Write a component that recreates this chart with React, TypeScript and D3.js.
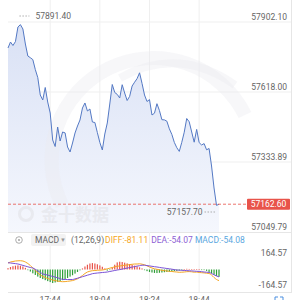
import React from "react";
import * as d3 from "d3";

// one point per minute, 17:27 .. 18:52
const startTime = new Date(2024, 0, 1, 17, 27);
const endTime = new Date(2024, 0, 1, 18, 53);
const times = d3.timeMinute.range(startTime, endTime);

const prices = [
  57796.6, 57820.9, 57806.7, 57822.6, 57881.8, 57891.4, 57873.7, 57812.8, 57764.1, 57757.2,
  57749.5, 57709.3, 57676.4, 57605.8, 57585.5, 57636.3, 57577.4, 57532.8, 57423.2, 57396.8,
  57475.9, 57419.1, 57455.7, 57452.0, 57394.8, 57374.5, 57411.0, 57451.6, 57480.0, 57504.4,
  57553.1, 57573.4, 57540.9, 57549.0, 57496.2, 57494.2, 57453.2, 57413.0, 57382.6, 57447.5,
  57492.2, 57569.3, 57648.4, 57616.0, 57608.3, 57593.6, 57647.6, 57613.9, 57583.5, 57600.1,
  57642.3, 57657.8, 57672.4, 57695.9, 57652.5, 57605.8, 57579.4, 57587.2, 57524.7, 57532.0,
  57570.5, 57542.9, 57505.6, 57504.8, 57499.5, 57468.6, 57445.9, 57413.5, 57391.9, 57376.9,
  57413.5, 57454.8, 57510.4, 57497.1, 57455.7, 57414.3, 57466.2, 57412.6, 57402.9, 57408.6,
  57383.4, 57388.7, 57317.7, 57228.4, 57157.7, 57162.6,
];

const diff = [
  47.5, 54.8, 58.5, 62.1, 63.6, 64.3, 62.1, 54.8, 43.9, 29.2,
  11.0, -7.3, -25.6, -40.2, -51.2, -58.5, -65.8, -71.6, -76.8, -81.1,
  -84.8, -87.7, -89.2, -88.5, -86.3, -84.1, -81.1, -75.3, -68.0, -57.0,
  -43.9, -29.2, -18.3, -12.4, -8.8, -7.3, -5.8, -4.4, -3.7, 0.0,
  5.1, 9.5, 14.6, 19.7, 24.1, 25.6, 28.5, 31.4, 32.9, 35.8,
  38.0, 40.2, 40.2, 41.7, 38.7, 34.4, 27.0, 18.3, 11.0, 5.1,
  1.5, -2.2, -5.8, -8.8, -11.0, -13.2, -14.6, -16.8, -18.3, -20.5,
  -19.7, -18.3, -16.1, -15.4, -16.8, -19.7, -19.0, -21.9, -23.4, -24.9,
  -27.0, -29.2, -40.2, -58.5, -73.1, -81.11,
];

const dea = [
  49.7, 47.5, 45.3, 43.1, 40.2, 35.8, 29.9, 24.9, 19.7, 14.6,
  11.0, 1.5, -9.5, -21.2, -32.2, -36.6, -40.9, -46.1, -50.4, -55.6,
  -60.7, -66.5, -72.4, -73.1, -73.1, -73.1, -73.1, -68.7, -63.6, -58.5,
  -52.6, -47.5, -41.7, -36.6, -30.7, -27.8, -25.6, -24.1, -21.9, -20.5,
  -18.3, -14.6, -11.0, -7.3, -3.7, -0.7, 2.9, 6.6, 10.2, 13.9,
  17.5, 21.2, 24.9, 27.8, 31.4, 31.4, 28.5, 26.3, 23.4, 20.5,
  18.3, 15.4, 12.4, 10.2, 7.3, 5.1, 2.2, -0.7, -3.7, -4.4,
  -5.8, -7.3, -8.0, -9.5, -10.2, -11.7, -13.2, -13.9, -16.1, -18.3,
  -19.7, -21.2, -29.2, -38.7, -47.5, -54.07,
];

const macd = [
  10, 18, 24, 28, 30, 28, 22, 12, -5, -15,
  -28, -40, -52, -62, -70, -78, -85, -92, -99, -95,
  -90, -84, -78, -70, -62, -52, -42, -30, -18, -6,
  8, 22, 35, 44, 47, 44, 38, 30, 20, 8,
  -8, -4, 15, 35, 52, 57, 55, 50, 45, 40,
  34, 28, 22, 16, 8, -5, -12, -18, -22, -25,
  -26, -24, -22, -20, -18, -16, -14, -12, -10, -8,
  -6, 3, 5, 4, 3, 2, 3, 2, -2, -4,
  -10, -18, -28, -38, -47, -54.08,
];

const priceTicks = ["57902.10", "57618.00", "57333.89", "57049.79"];
const macdTicks = ["164.57", "-164.57"];
const timeTicks = ["17:44", "18:04", "18:24", "18:44"];
const maxLabel = "57891.40";
const minLabel = "57157.70";
const lastLabel = "57162.60";

const font = "Roboto, 'Noto Sans', sans-serif";
const grid = "#efefef";
const textGray = "#666";

export default function App() {
  const left = 8;
  const right = 292;
  const mainTop = 22;
  const mainBottom = 232;
  const macdTop = 247;
  const macdBottom = 292;

  const x = d3.scaleTime().domain([times[0], times[times.length - 1]]).range([8, 219]);
  const y = d3
    .scaleLinear()
    .domain([+priceTicks[3], +priceTicks[0]])
    .range([mainBottom, mainTop]);
  const ym = d3
    .scaleLinear()
    .domain([+macdTicks[1], +macdTicks[0]])
    .range([macdBottom, macdTop]);

  const parseT = d3.timeParse("%H:%M");
  const tickX = timeTicks.map((t) => {
    const p = parseT(t)!;
    return x(new Date(2024, 0, 1, p.getHours(), p.getMinutes()));
  });

  const line = d3
    .line<number>()
    .x((_, i) => x(times[i]))
    .y((d) => y(d));
  const area = d3
    .area<number>()
    .x((_, i) => x(times[i]))
    .y0(mainBottom)
    .y1((d) => y(d));
  const mline = d3
    .line<number>()
    .curve(d3.curveMonotoneX)
    .x((_, i) => x(times[i]))
    .y((d) => ym(d));

  const maxI = d3.maxIndex(prices);
  const minI = d3.minIndex(prices);
  const last = prices[prices.length - 1];
  const maxX = x(times[maxI]);
  const minX = x(times[minI]);

  return (
    <svg
      width={300}
      height={300}
      style={{ position: "absolute", left: 0, top: 0, background: "#fff" }}
    >
      <defs>
        <linearGradient id="fill" x1="0" y1="0" x2="0" y2="1">
          <stop offset="0%" stopColor="#d9e1f5" />
          <stop offset="100%" stopColor="#f5f7fd" />
        </linearGradient>
      </defs>

      {/* grid */}
      {[0, 1, 2].map((k) => (
        <line key={k} x1={left} x2={right} y1={y(+priceTicks[k])} y2={y(+priceTicks[k])} stroke={grid} />
      ))}
      <line x1={left} x2={right} y1={mainBottom + 0.5} y2={mainBottom + 0.5} stroke="#e6e6e6" />
      <line x1={left} x2={right} y1={macdBottom + 0.5} y2={macdBottom + 0.5} stroke="#e6e6e6" />
      {tickX.map((tx, k) => (
        <line key={k} x1={tx} x2={tx} y1={0} y2={macdBottom} stroke={grid} />
      ))}
      <line x1={right - 0.5} x2={right - 0.5} y1={0} y2={macdBottom} stroke="#e6e6e6" />

      {/* price area */}
      <path d={area(prices)!} fill="url(#fill)" />

      {/* watermark */}
      <g fill="none" stroke="#ececf0" strokeOpacity={0.4} strokeWidth={14}>
        <path d="M62,205 A95,95 0 0 1 245,115" />
        <path d="M120,78 C160,55 200,60 235,85" strokeWidth={8} />
      </g>
      <g opacity={0.6}>
        <circle cx={26} cy={214} r={6.5} fill="none" stroke="#e3e3e8" strokeWidth={3} />
        <text x={41} y={221} fontSize={17} fontWeight="bold" fill="#e3e3e8" fontFamily="'Noto Sans CJK SC', sans-serif">
          金十数据
        </text>
      </g>

      <path d={line(prices)!} fill="none" stroke="#5479c4" strokeWidth={1} />

      {/* last price */}
      <line x1={left} x2={247} y1={y(last)} y2={y(last)} stroke="#e8534a" strokeDasharray="3,2" strokeWidth={0.8} />
      <rect x={247} y={y(last) - 5.5} width={43} height={11} fill="#e8534a" rx={1} />
      <text x={268.5} y={y(last)} dy="0.35em" textAnchor="middle" fontSize={8.5} fill="#fff" fontFamily={font}>
        {lastLabel}
      </text>

      {/* max / min markers */}
      <line x1={maxX - 1} x2={maxX + 9} y1={16} y2={16} stroke="#999" strokeDasharray="1.5,1.5" strokeWidth={0.8} />
      <text x={maxX + 15} y={16} dy="0.35em" fontSize={8.5} fill={textGray} fontFamily={font}>
        {maxLabel}
      </text>
      <line x1={minX - 12} x2={minX - 1} y1={212} y2={212} stroke="#999" strokeDasharray="1.5,1.5" strokeWidth={0.8} />
      <text x={minX - 14} y={212} dy="0.35em" textAnchor="end" fontSize={8.5} fill={textGray} fontFamily={font}>
        {minLabel}
      </text>

      {/* price axis labels */}
      {priceTicks.map((t) => (
        <text key={t} x={287} y={y(+t) - 5} dy="0.35em" textAnchor="end" fontSize={8.5} fill={textGray} fontFamily={font}>
          {t}
        </text>
      ))}

      {/* MACD header */}
      <circle cx={19} cy={240} r={3.3} fill="none" stroke="#999" strokeWidth={0.8} />
      <circle cx={19} cy={240} r={0.9} fill="#999" />
      <rect x={31} y={234} width={35} height={12} rx={2} fill="#f2f2f2" />
      <text x={35} y={240} dy="0.35em" fontSize={8.5} fill={textGray} fontFamily={font}>
        MACD
      </text>
      <text x={60} y={240} dy="0.35em" fontSize={6} fill="#999" fontFamily={font}>
        ▼
      </text>
      <text y={240} dy="0.35em" fontSize={8.5} fontFamily={font}>
        <tspan x={71} fill={textGray}>(12,26,9)</tspan>
        <tspan dx={1} fill="#f5a623">DIFF:-81.11</tspan>
        <tspan dx={3} fill="#8e5fd4">DEA:-54.07</tspan>
        <tspan dx={2} fill="#5aa7e0">MACD:-54.08</tspan>
      </text>

      {/* MACD histogram */}
      {macd.map((v, i) => (
        <rect
          key={i}
          x={x(times[i]) - 0.6}
          width={1.2}
          y={Math.min(ym(v), ym(0))}
          height={Math.max(0.6, Math.abs(ym(v) - ym(0)))}
          fill={v >= 0 ? "#e8534a" : "#2e9e38"}
        />
      ))}
      <path d={mline(diff)!} fill="none" stroke="#f5a623" strokeWidth={1} />
      <path d={mline(dea)!} fill="none" stroke="#7b52d6" strokeWidth={1} />

      {macdTicks.map((t, k) => (
        <text key={t} x={287} y={k === 0 ? 253 : 285} dy="0.35em" textAnchor="end" fontSize={8.5} fill={textGray} fontFamily={font}>
          {t}
        </text>
      ))}

      {/* time axis, cut at the bottom edge as in the source */}
      {timeTicks.map((t, k) => (
        <text key={t} x={tickX[k]} y={297} dominantBaseline="hanging" textAnchor="middle" fontSize={8.5} fill={textGray} fontFamily={font}>
          {t}
        </text>
      ))}

      {/* fullscreen icon */}
      <path d="M275,300 V297 H278 M280,297 H283 V300" fill="none" stroke="#4a8fe0" strokeWidth={1} />
    </svg>
  );
}
